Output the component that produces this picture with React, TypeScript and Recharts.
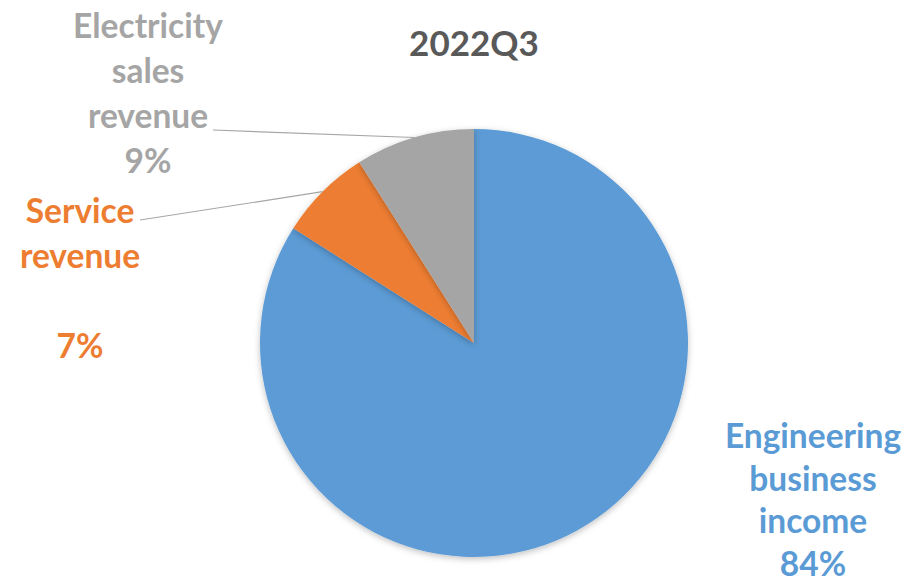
import { PieChart, Pie, Cell } from "recharts";

const TITLE = "2022Q3";
const names = ["Engineering business income", "Service revenue", "Electricity sales revenue"];
const values = [84, 7, 9];
const labelLines = [
  ["Engineering", "business", "income"],
  ["Service", "revenue", ""],
  ["Electricity", "sales", "revenue"],
];
const COLORS = ["#5B9BD5", "#ED7D31", "#A5A5A5"];

// label placement relative to pie centre (dx, dy of first line, line gap, leader end or null)
const LABEL_LAYOUT = [
  { dx: 339, dy: 92, gap: 42.5, line: null },
  { dx: -394, dy: -133, gap: 45, line: { x: -334, y: -123 } },
  { dx: -326, dy: -318, gap: 45, line: { x: -261, y: -213 } },
];

const data = names.map((name, i) => ({ name, value: values[i] }));
const FONT = "Lato, 'Open Sans', sans-serif";
const RAD = Math.PI / 180;

const renderLabel = (props: any) => {
  const { cx, cy, midAngle, outerRadius, index, percent } = props;
  const lay = LABEL_LAYOUT[index];
  const lines = [...labelLines[index], `${Math.round(percent * 100)}%`];
  const x = cx + lay.dx;
  const y0 = cy + lay.dy;
  const ex = cx + outerRadius * Math.cos(-midAngle * RAD);
  const ey = cy + outerRadius * Math.sin(-midAngle * RAD);
  return (
    <g key={`lbl-${index}`}>
      {lay.line && (
        <polyline
          points={`${ex},${ey} ${cx + lay.line.x},${cy + lay.line.y}`}
          stroke="#A6A6A6"
          strokeWidth={1.2}
          fill="none"
        />
      )}
      {lines.map((t, i) => (
        <text
          key={i}
          x={x}
          y={y0 + i * lay.gap}
          textAnchor="middle"
          dominantBaseline="central"
          fill={COLORS[index]}
          fontFamily={FONT}
          fontWeight="bold"
          fontSize={33.5}
        >
          {t}
        </text>
      ))}
    </g>
  );
};

export default function App() {
  return (
    <div style={{ position: "absolute", left: 0, top: 0, width: 918, height: 582, background: "#fff" }}>
      <div
        style={{
          position: "absolute",
          left: 0,
          width: 948,
          top: 21,
          textAlign: "center",
          fontFamily: FONT,
          fontWeight: "bold",
          fontSize: 35,
          color: "#595959",
        }}
      >
        {TITLE}
      </div>
      <PieChart width={918} height={582} margin={{ top: 0, right: 0, bottom: 0, left: 0 }}>
        <defs>
          <filter id="pieShadow" x="-10%" y="-10%" width="120%" height="120%">
            <feDropShadow dx="0" dy="2" stdDeviation="3" floodColor="#000" floodOpacity="0.25" />
          </filter>
        </defs>
        <Pie
          data={data}
          dataKey="value"
          nameKey="name"
          cx={474}
          cy={343}
          outerRadius={214}
          startAngle={90}
          endAngle={-270}
          stroke="none"
          label={renderLabel}
          labelLine={false}
          isAnimationActive={false}
          style={{ filter: "url(#pieShadow)" }}
        >
          {data.map((entry, index) => (
            <Cell key={index} fill={COLORS[index]} />
          ))}
        </Pie>
      </PieChart>
    </div>
  );
}
